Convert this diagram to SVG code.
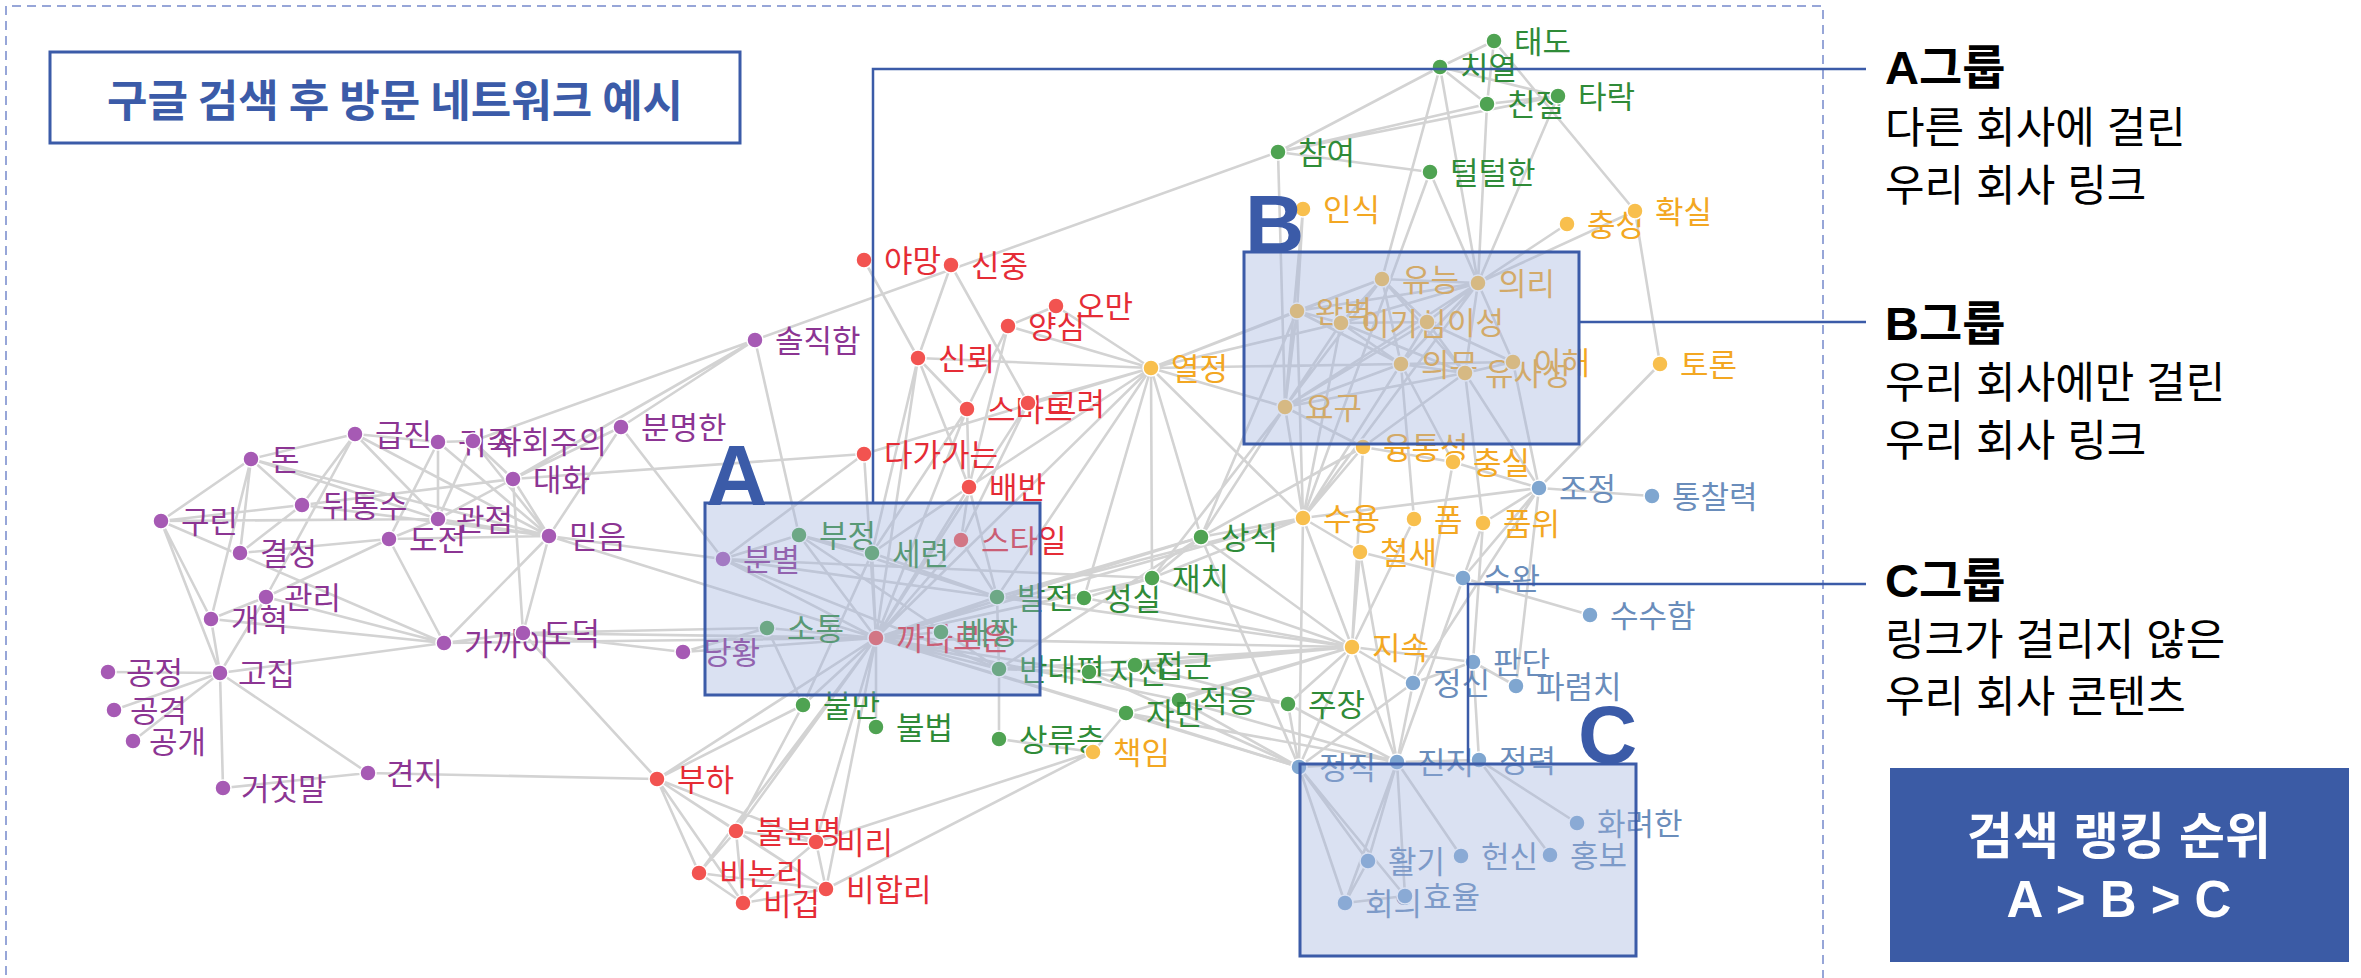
<svg xmlns="http://www.w3.org/2000/svg" width="2361" height="978" viewBox="0 0 2361 978">
<style>
.lbl{font-family:"Noto Sans CJK KR","Noto Sans",sans-serif;font-size:31px}
.lbl text{transform:translate(0px,2px)}
circle{stroke:#fff;stroke-width:1.5}
.p circle{fill:#a65ab4}.p text{fill:#8c3593}
.r circle{fill:#f25350}.r text{fill:#e52c36}
.g circle{fill:#4fa352}.g text{fill:#2f8b38}
.o circle{fill:#f8bf4d}.o text{fill:#f3a722}
.b circle{fill:#7fa6d0}.b text{fill:#6a8dbb}
.box{fill:#9db0dc;fill-opacity:0.38;stroke:#3b5ba8;stroke-width:3}
.lead{fill:none;stroke:#3b5ba8;stroke-width:2.5}
.big{font-family:"Liberation Sans",Arial,sans-serif;font-weight:bold;fill:#3b5ba8}
.side{font-family:"Liberation Sans","Noto Sans CJK KR",sans-serif;fill:#000}
</style>
<path d="M6 990V6H1823V990" fill="none" stroke="#97a6d8" stroke-width="2" stroke-dasharray="9 6"/>
<g id="title"><rect x="50" y="52" width="690" height="91" fill="#fff" stroke="#3b5ba8" stroke-width="3"/>
<text x="395" y="117" text-anchor="middle" font-family="Noto Sans CJK KR,sans-serif" font-weight="bold" font-size="44" fill="#3b5ba8">구글 검색 후 방문 네트워크 예시</text></g>
<g id="edges" stroke="#d3d3d3" stroke-width="2.6" fill="none">
<path d="M251 459L355 434M251 459L161 521M251 459L240 553M251 459L302 505M251 459L438 519M251 459L549 536M251 459L211 619M161 521L302 505M161 521L438 519M161 521L211 619M161 521L220 673M161 521L444 643M355 434L302 505M355 434L438 519M355 434L549 536M355 434L438 442M355 434L266 597M302 505L513 479M302 505L549 536M302 505L240 553M438 442L438 519M438 442L549 536M438 442L389 539M438 442L473 441M473 441L438 519M473 441L549 536M473 441L513 479M473 441L755 340M513 479L438 519M513 479L549 536M513 479L523 633M513 479L755 340M513 479L864 454M389 539L438 519M389 539L266 597M389 539L444 643M389 539L240 553M389 539L549 536M438 519L549 536M549 536L523 633M549 536L723 559M549 536L876 638M549 536L621 427M549 536L444 643M621 427L723 559M621 427L755 340M621 427L513 479M444 643L211 619M444 643L220 673M444 643L266 597M444 643L523 633M444 643L876 638M523 633L657 779M523 633L683 652M523 633L876 638M523 633L767 628M220 673L108 672M220 673L114 710M220 673L133 741M220 673L223 788M220 673L368 773M220 673L211 619M220 673L266 597M211 619L266 597M223 788L368 773M368 773L657 779M755 340L799 535M755 340L1278 152M723 559L876 638M723 559L799 535M723 559L997 597M723 559L999 669M723 559L1152 578M683 652L876 638M683 652L767 628"/>
<path d="M864 260L918 358M951 265L918 358M951 265L1028 403M1056 306L1151 368M1056 306L1008 326M1008 326L1151 368M1008 326L967 409M1008 326L969 487M918 358L967 409M918 358L1151 368M918 358L969 487M918 358L872 553M918 358L876 638M967 409L969 487M967 409L876 638M967 409L872 553M1028 403L961 540M1028 403L1151 368M1028 403L876 638M864 454L1151 368M864 454L876 638M864 454L723 559M969 487L876 638M969 487L961 540M969 487L997 597M969 487L1151 368M969 487L872 553M961 540L876 638M961 540L997 597M876 638L767 628M876 638L799 535M876 638L872 553M876 638L803 705M876 638L876 727M876 638L997 597M876 638L999 669M876 638L941 632M876 638L1201 537M876 638L1152 578M876 638L1126 713M876 638L1179 700M876 638L1288 704M876 638L1352 647M876 638L1299 767M876 638L736 831M876 638L699 873M876 638L657 779M876 638L816 842M876 638L826 889M876 638L1151 368M876 638L1303 518M657 779L736 831M657 779L699 873M657 779L743 903M657 779L826 889M657 779L816 842M657 779L803 705M736 831L816 842M736 831L699 873M736 831L743 903M736 831L826 889M816 842L826 889M816 842L1093 752M816 842L743 903M826 889L1093 752M826 889L699 873M699 873L743 903M743 903L826 889M803 705L736 831"/>
<path d="M1494 41L1440 67M1494 41L1487 104M1494 41L1635 211M1440 67L1278 152M1440 67L1487 104M1440 67L1478 283M1440 67L1382 279M1440 67L1558 96M1487 104L1278 152M1487 104L1558 96M1487 104L1478 283M1558 96L1478 283M1558 96L1278 152M1278 152L1430 172M1278 152L1285 407M1430 172L1478 283M1430 172L1303 518M799 535L872 553M799 535L997 597M799 535L999 669M872 553L997 597M872 553L803 705M997 597L1084 598M997 597L1201 537M997 597L999 669M997 597L1303 518M1084 598L1152 578M1084 598L1352 647M1152 578L1201 537M1152 578L1303 518M1152 578L1151 368M1201 537L1303 518M1201 537L1151 368M1201 537L999 669M767 628L803 705M999 669L999 739M999 669L1089 672M999 669L1352 647M1089 672L1352 647M1135 665L1352 647M1135 665L1288 704M1179 700L1352 647M1179 700L1299 767M1126 713L1352 647M1126 713L1299 767M1126 713L1093 752M1288 704L1352 647M1288 704L1299 767M999 739L1093 752"/>
<path d="M1303 209L1297 311M1303 209L1285 407M1567 224L1478 283M1635 211L1478 283M1635 211L1660 364M1382 279L1478 283M1382 279L1297 311M1382 279L1341 323M1382 279L1427 322M1382 279L1401 364M1382 279L1465 373M1382 279L1285 407M1478 283L1297 311M1478 283L1341 323M1478 283L1427 322M1478 283L1401 364M1478 283L1465 373M1478 283L1513 362M1478 283L1285 407M1297 311L1341 323M1297 311L1401 364M1297 311L1285 407M1297 311L1151 368M1297 311L1303 518M1341 323L1427 322M1341 323L1401 364M1341 323L1465 373M1341 323L1285 407M1341 323L1151 368M1341 323L1303 518M1427 322L1401 364M1427 322L1465 373M1427 322L1513 362M1427 322L1285 407M1401 364L1465 373M1401 364L1513 362M1401 364L1285 407M1401 364L1151 368M1401 364L1303 518M1465 373L1513 362M1465 373L1285 407M1465 373L1539 488M1513 362L1539 488M1660 364L1539 488M1151 368L1285 407M1151 368L1382 279M1151 368L1303 518M1285 407L1303 518M1285 407L1363 447M1363 447L1303 518M1363 447L1453 462M1363 447L1465 373M1363 447L1352 647M1453 462L1539 488M1453 462L1401 364M1303 518L1539 488M1303 518L1360 552M1303 518L1352 647M1303 518L1299 767M1303 518L1478 283M1414 519L1401 364M1483 523L1539 488M1483 523L1465 373M1483 523L1397 762M1360 552L1463 578M1360 552L1352 647M1352 647L1299 767M1352 647L1397 762M1352 647L1413 683M1352 647L1473 662M1285 407L1201 537M1285 407L1152 578M1297 311L1201 537M1151 368L997 597M1151 368L1084 598M1363 447L1201 537M1453 462L1413 683M1414 519L1352 647M1352 647L1201 537M1352 647L1152 578M1352 647L997 597"/>
<path d="M1539 488L1652 496M1539 488L1463 578M1539 488L1413 683M1539 488L1516 686M1463 578L1590 615M1473 662L1413 683M1473 662L1516 686M1473 662L1483 523M1473 662L1479 760M1413 683L1397 762M1413 683L1299 767M1299 767L1397 762M1299 767L1345 903M1299 767L1368 861M1299 767L1405 896M1397 762L1479 760M1397 762L1368 861M1397 762L1405 896M1397 762L1461 856M1397 762L1345 903M1479 760L1550 855M1479 760L1577 823M1368 861L1345 903M1345 903L1405 896M1299 767L1089 672M1397 762L1126 713M1397 762L1288 704M1397 762L1179 700M1299 767L1201 537M1397 762L1360 552"/>
</g>
<g id="nodes" class="lbl">
<g id="n-don" class="p"><circle cx="251" cy="459" r="8"/><text x="271" y="469">돈</text></g>
<g id="n-gurin" class="p"><circle cx="161" cy="521" r="8"/><text x="181" y="531">구린</text></g>
<g id="n-geupjin" class="p"><circle cx="355" cy="434" r="8"/><text x="375" y="444">급진</text></g>
<g id="n-dwitongsu" class="p"><circle cx="302" cy="505" r="8"/><text x="322" y="515">뒤통수</text></g>
<g id="n-gyeoljeong" class="p"><circle cx="240" cy="553" r="8"/><text x="260" y="563">결정</text></g>
<g id="n-gwanri" class="p"><circle cx="266" cy="597" r="8"/><text x="284" y="607">관리</text></g>
<g id="n-gaehyeok" class="p"><circle cx="211" cy="619" r="8"/><text x="231" y="629">개혁</text></g>
<g id="n-dojeon" class="p"><circle cx="389" cy="539" r="8"/><text x="409" y="549">도전</text></g>
<g id="n-gwanjeom" class="p"><circle cx="438" cy="519" r="8"/><text x="456" y="529">관점</text></g>
<g id="n-gwijok" class="p"><circle cx="438" cy="442" r="8"/><text x="458" y="452">귀족</text></g>
<g id="n-sahoe" class="p"><circle cx="473" cy="441" r="8"/><text x="493" y="451">사회주의</text></g>
<g id="n-daehwa" class="p"><circle cx="513" cy="479" r="8"/><text x="533" y="489">대화</text></g>
<g id="n-mideum" class="p"><circle cx="549" cy="536" r="8"/><text x="569" y="546">믿음</text></g>
<g id="n-bunmyeong" class="p"><circle cx="621" cy="427" r="8"/><text x="641" y="437">분명한</text></g>
<g id="n-gakkai" class="p"><circle cx="444" cy="643" r="8"/><text x="464" y="653">가까이</text></g>
<g id="n-dodeok" class="p"><circle cx="523" cy="633" r="8"/><text x="543" y="643">도덕</text></g>
<g id="n-gongjeong" class="p"><circle cx="108" cy="672" r="8"/><text x="126" y="682">공정</text></g>
<g id="n-gojip" class="p"><circle cx="220" cy="673" r="8"/><text x="238" y="683">고집</text></g>
<g id="n-gonggyeok" class="p"><circle cx="114" cy="710" r="8"/><text x="130" y="720">공격</text></g>
<g id="n-gonggae" class="p"><circle cx="133" cy="741" r="8"/><text x="149" y="751">공개</text></g>
<g id="n-geojitmal" class="p"><circle cx="223" cy="788" r="8"/><text x="241" y="798">거짓말</text></g>
<g id="n-gyeonji" class="p"><circle cx="368" cy="773" r="8"/><text x="386" y="783">견지</text></g>
<g id="n-soljik" class="p"><circle cx="755" cy="340" r="8"/><text x="775" y="350">솔직함</text></g>
<g id="n-bunbyeol" class="p"><circle cx="723" cy="559" r="8"/><text x="743" y="569">분별</text></g>
<g id="n-danghwang" class="p"><circle cx="683" cy="652" r="8"/><text x="703" y="662">당황</text></g>
<g id="n-yamang" class="r"><circle cx="864" cy="260" r="8"/><text x="884" y="270">야망</text></g>
<g id="n-sinjung" class="r"><circle cx="951" cy="265" r="8"/><text x="971" y="275">신중</text></g>
<g id="n-oman" class="r"><circle cx="1056" cy="306" r="8"/><text x="1076" y="316">오만</text></g>
<g id="n-yangsim" class="r"><circle cx="1008" cy="326" r="8"/><text x="1028" y="336">양심</text></g>
<g id="n-sinroe" class="r"><circle cx="918" cy="358" r="8"/><text x="938" y="368">신뢰</text></g>
<g id="n-smart" class="r"><circle cx="967" cy="409" r="8"/><text x="987" y="419">스마트</text></g>
<g id="n-goryeo" class="r"><circle cx="1028" cy="403" r="8"/><text x="1048" y="413">고려</text></g>
<g id="n-dagaga" class="r"><circle cx="864" cy="454" r="8"/><text x="884" y="464">다가가는</text></g>
<g id="n-baeban" class="r"><circle cx="969" cy="487" r="8"/><text x="989" y="497">배반</text></g>
<g id="n-style" class="r"><circle cx="961" cy="540" r="8"/><text x="981" y="550">스타일</text></g>
<g id="n-kkada" class="r"><circle cx="876" cy="638" r="8"/><text x="896" y="648">까다로운</text></g>
<g id="n-buha" class="r"><circle cx="657" cy="779" r="8"/><text x="677" y="789">부하</text></g>
<g id="n-bulbun" class="r"><circle cx="736" cy="831" r="8"/><text x="756" y="841">불분명</text></g>
<g id="n-biri" class="r"><circle cx="816" cy="842" r="8"/><text x="836" y="852">비리</text></g>
<g id="n-binonri" class="r"><circle cx="699" cy="873" r="8"/><text x="719" y="883">비논리</text></g>
<g id="n-bihap" class="r"><circle cx="826" cy="889" r="8"/><text x="846" y="899">비합리</text></g>
<g id="n-bigeop" class="r"><circle cx="743" cy="903" r="8"/><text x="763" y="913">비겁</text></g>
<g id="n-taedo" class="g"><circle cx="1494" cy="41" r="8"/><text x="1514" y="51">태도</text></g>
<g id="n-chiyeol" class="g"><circle cx="1440" cy="67" r="8"/><text x="1460" y="77">치열</text></g>
<g id="n-chinjeol" class="g"><circle cx="1487" cy="104" r="8"/><text x="1507" y="114">친절</text></g>
<g id="n-tarak" class="g"><circle cx="1558" cy="96" r="8"/><text x="1578" y="106">타락</text></g>
<g id="n-chamyeo" class="g"><circle cx="1278" cy="152" r="8"/><text x="1298" y="162">참여</text></g>
<g id="n-teol" class="g"><circle cx="1430" cy="172" r="8"/><text x="1450" y="182">털털한</text></g>
<g id="n-bujeong" class="g"><circle cx="799" cy="535" r="8"/><text x="819" y="545">부정</text></g>
<g id="n-seryeon" class="g"><circle cx="872" cy="553" r="8"/><text x="892" y="563">세련</text></g>
<g id="n-baljeon" class="g"><circle cx="997" cy="597" r="8"/><text x="1017" y="607">발전</text></g>
<g id="n-seongsil" class="g"><circle cx="1084" cy="598" r="8"/><text x="1104" y="608">성실</text></g>
<g id="n-jaechi" class="g"><circle cx="1152" cy="578" r="8"/><text x="1172" y="588">재치</text></g>
<g id="n-sangsik" class="g"><circle cx="1201" cy="537" r="8"/><text x="1221" y="547">상식</text></g>
<g id="n-sotong" class="g"><circle cx="767" cy="628" r="8"/><text x="787" y="638">소통</text></g>
<g id="n-baejjang" class="g"><circle cx="941" cy="632" r="8"/><text x="961" y="642">배짱</text></g>
<g id="n-bandae" class="g"><circle cx="999" cy="669" r="8"/><text x="1019" y="679">반대편</text></g>
<g id="n-jasin" class="g"><circle cx="1089" cy="672" r="8"/><text x="1109" y="682">자신</text></g>
<g id="n-jeopgeun" class="g"><circle cx="1135" cy="665" r="8"/><text x="1155" y="675">접근</text></g>
<g id="n-jeogeung" class="g"><circle cx="1179" cy="700" r="8"/><text x="1199" y="710">적응</text></g>
<g id="n-jaman" class="g"><circle cx="1126" cy="713" r="8"/><text x="1146" y="723">자만</text></g>
<g id="n-jujang" class="g"><circle cx="1288" cy="704" r="8"/><text x="1308" y="714">주장</text></g>
<g id="n-bulman" class="g"><circle cx="803" cy="705" r="8"/><text x="823" y="715">불만</text></g>
<g id="n-bulbeop" class="g"><circle cx="876" cy="727" r="8"/><text x="896" y="737">불법</text></g>
<g id="n-sangryu" class="g"><circle cx="999" cy="739" r="8"/><text x="1019" y="749">상류층</text></g>
<g id="n-insik" class="o"><circle cx="1303" cy="209" r="8"/><text x="1323" y="219">인식</text></g>
<g id="n-chungseong" class="o"><circle cx="1567" cy="224" r="8"/><text x="1587" y="234">충성</text></g>
<g id="n-hwaksil" class="o"><circle cx="1635" cy="211" r="8"/><text x="1655" y="221">확실</text></g>
<g id="n-yuneung" class="o"><circle cx="1382" cy="279" r="8"/><text x="1402" y="289">유능</text></g>
<g id="n-uiri" class="o"><circle cx="1478" cy="283" r="8"/><text x="1498" y="293">의리</text></g>
<g id="n-wanbyeok" class="o"><circle cx="1297" cy="311" r="8"/><text x="1315" y="321">완벽</text></g>
<g id="n-igisim" class="o"><circle cx="1341" cy="323" r="8"/><text x="1361" y="333">이기심</text></g>
<g id="n-iseong" class="o"><circle cx="1427" cy="322" r="8"/><text x="1447" y="332">이성</text></g>
<g id="n-uimu" class="o"><circle cx="1401" cy="364" r="8"/><text x="1421" y="374">의무</text></g>
<g id="n-yusa" class="o"><circle cx="1465" cy="373" r="8"/><text x="1485" y="383">유사성</text></g>
<g id="n-ihae" class="o"><circle cx="1513" cy="362" r="8"/><text x="1533" y="372">이해</text></g>
<g id="n-toron" class="o"><circle cx="1660" cy="364" r="8"/><text x="1680" y="374">토론</text></g>
<g id="n-yeoljeong" class="o"><circle cx="1151" cy="368" r="8"/><text x="1171" y="378">열정</text></g>
<g id="n-yogu" class="o"><circle cx="1285" cy="407" r="8"/><text x="1305" y="417">요구</text></g>
<g id="n-yungtong" class="o"><circle cx="1363" cy="447" r="8"/><text x="1383" y="457">융통성</text></g>
<g id="n-chungsil" class="o"><circle cx="1453" cy="462" r="8"/><text x="1473" y="472">충실</text></g>
<g id="n-suyong" class="o"><circle cx="1303" cy="518" r="8"/><text x="1323" y="528">수용</text></g>
<g id="n-pom" class="o"><circle cx="1414" cy="519" r="8"/><text x="1434" y="529">폼</text></g>
<g id="n-pumwi" class="o"><circle cx="1483" cy="523" r="8"/><text x="1503" y="533">품위</text></g>
<g id="n-cheolsae" class="o"><circle cx="1360" cy="552" r="8"/><text x="1380" y="562">철새</text></g>
<g id="n-jisok" class="o"><circle cx="1352" cy="647" r="8"/><text x="1372" y="657">지속</text></g>
<g id="n-chaegim" class="o"><circle cx="1093" cy="752" r="8"/><text x="1113" y="762">책임</text></g>
<g id="n-jojeong" class="b"><circle cx="1539" cy="488" r="8"/><text x="1559" y="498">조정</text></g>
<g id="n-tongchal" class="b"><circle cx="1652" cy="496" r="8"/><text x="1672" y="506">통찰력</text></g>
<g id="n-suwan" class="b"><circle cx="1463" cy="578" r="8"/><text x="1483" y="588">수완</text></g>
<g id="n-susu" class="b"><circle cx="1590" cy="615" r="8"/><text x="1610" y="625">수수함</text></g>
<g id="n-pandan" class="b"><circle cx="1473" cy="662" r="8"/><text x="1493" y="672">판단</text></g>
<g id="n-jeongsin" class="b"><circle cx="1413" cy="683" r="8"/><text x="1433" y="693">정신</text></g>
<g id="n-paryeom" class="b"><circle cx="1516" cy="686" r="8"/><text x="1536" y="696">파렴치</text></g>
<g id="n-jeongjik" class="b"><circle cx="1299" cy="767" r="8"/><text x="1319" y="777">정직</text></g>
<g id="n-jinji" class="b"><circle cx="1397" cy="762" r="8"/><text x="1417" y="772">진지</text></g>
<g id="n-jeongryeok" class="b"><circle cx="1479" cy="760" r="8"/><text x="1499" y="770">정력</text></g>
<g id="n-hwaryeo" class="b"><circle cx="1577" cy="823" r="8"/><text x="1597" y="833">화려한</text></g>
<g id="n-hwalgi" class="b"><circle cx="1368" cy="861" r="8"/><text x="1388" y="871">활기</text></g>
<g id="n-heonsin" class="b"><circle cx="1461" cy="856" r="8"/><text x="1481" y="866">헌신</text></g>
<g id="n-hongbo" class="b"><circle cx="1550" cy="855" r="8"/><text x="1570" y="865">홍보</text></g>
<g id="n-hoeui" class="b"><circle cx="1345" cy="903" r="8"/><text x="1365" y="913">회의</text></g>
<g id="n-hyoyul" class="b"><circle cx="1405" cy="896" r="8"/><text x="1423" y="906">효율</text></g>
</g>
<g id="group-a"><rect class="box" x="705" y="503" width="335" height="192"/><text class="big" x="706" y="505" font-size="85">A</text></g>
<g id="group-b"><rect class="box" x="1244" y="252" width="335" height="192"/><text class="big" x="1245" y="252" font-size="82">B</text></g>
<g id="group-c"><rect class="box" x="1300" y="764" width="336" height="192"/><text class="big" x="1578" y="763" font-size="82">C</text></g>
<g id="leaders">
<path class="lead" d="M873 503V69H1866"/>
<path class="lead" d="M1579 322H1866"/>
<path class="lead" d="M1468 764V584H1866"/>
</g>
<g id="legend" class="side">
<text x="1885" y="84" font-size="47" font-weight="bold">A그룹</text>
<text x="1885" y="143" font-size="43">다른 회사에 걸린</text>
<text x="1885" y="201" font-size="43">우리 회사 링크</text>
<text x="1885" y="340" font-size="47" font-weight="bold">B그룹</text>
<text x="1885" y="398" font-size="43">우리 회사에만 걸린</text>
<text x="1885" y="456" font-size="43">우리 회사 링크</text>
<text x="1885" y="597" font-size="47" font-weight="bold">C그룹</text>
<text x="1885" y="655" font-size="43">링크가 걸리지 않은</text>
<text x="1885" y="712" font-size="43">우리 회사 콘텐츠</text>
</g>
<g id="ranking"><rect x="1890" y="768" width="459" height="194" fill="#3b5ba5"/>
<text x="2119" y="854" text-anchor="middle" font-family="Liberation Sans,Noto Sans CJK KR,sans-serif" font-size="50" font-weight="bold" fill="#fff">검색 랭킹 순위</text>
<text x="2119" y="917" text-anchor="middle" font-family="Liberation Sans,Noto Sans CJK KR,sans-serif" font-size="51" font-weight="bold" fill="#fff">A &gt; B &gt; C</text></g>
</svg>
